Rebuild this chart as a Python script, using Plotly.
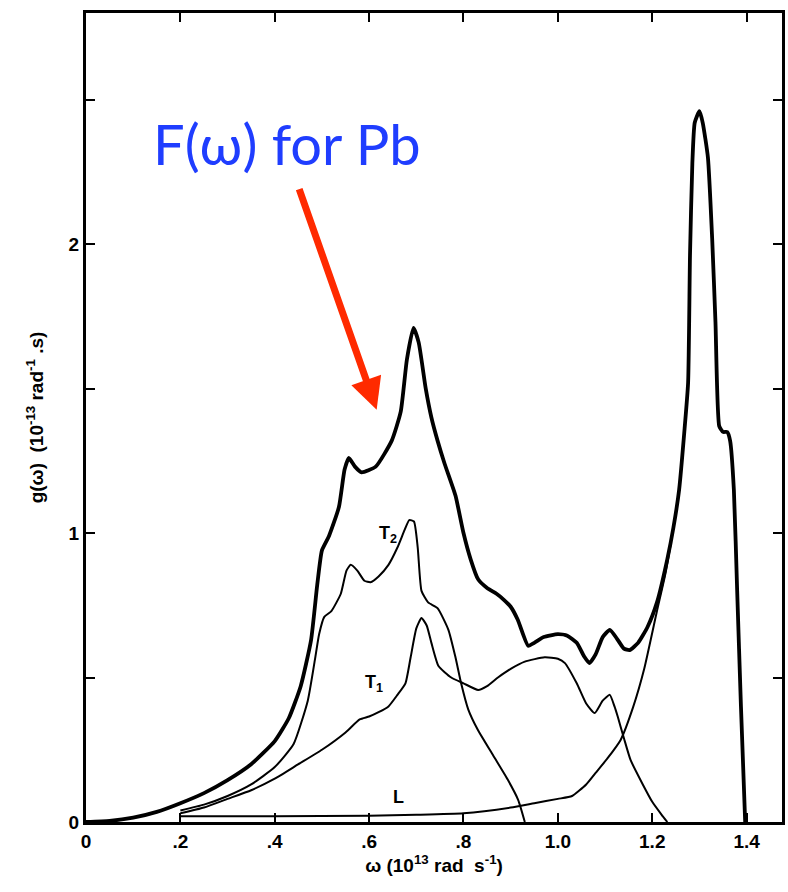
import plotly.graph_objects as go

# Total F(omega)
total_x = [0, 0.05, 0.1, 0.15, 0.2, 0.25, 0.3, 0.35, 0.4, 0.43, 0.455, 0.477, 0.49, 0.50, 0.515, 0.536,
           0.548, 0.557, 0.57, 0.584, 0.614, 0.648, 0.667, 0.68, 0.694, 0.705, 0.72, 0.732, 0.745, 0.76,
           0.783, 0.80, 0.815, 0.831, 0.85, 0.87, 0.885, 0.90, 0.915, 0.937, 0.95, 0.97, 1.0, 1.02, 1.04,
           1.055, 1.067, 1.08, 1.095, 1.11, 1.125, 1.14, 1.152, 1.17, 1.19, 1.21, 1.232, 1.245, 1.257,
           1.268, 1.276, 1.28, 1.285, 1.29, 1.3, 1.307, 1.318, 1.327, 1.334, 1.342, 1.35, 1.359, 1.365,
           1.373, 1.38, 1.388, 1.397]
total_y = [0, 0.004, 0.015, 0.035, 0.065, 0.1, 0.145, 0.2, 0.28, 0.36, 0.47, 0.63, 0.82, 0.94, 0.99, 1.09,
           1.22, 1.26, 1.23, 1.21, 1.23, 1.32, 1.42, 1.60, 1.71, 1.66, 1.50, 1.40, 1.32, 1.24,
           1.13, 1.00, 0.91, 0.84, 0.81, 0.79, 0.77, 0.745, 0.70, 0.61, 0.62, 0.64, 0.65, 0.645, 0.62,
           0.575, 0.55, 0.58, 0.64, 0.665, 0.635, 0.60, 0.595, 0.62, 0.675, 0.76, 0.91, 1.02, 1.15,
           1.35, 1.52, 1.96, 2.28, 2.42, 2.46, 2.42, 2.30, 2.02, 1.73, 1.37, 1.35, 1.35, 1.32,
           1.15, 0.8, 0.4, 0.0]

# T2 branch
t2_x = [0.2, 0.25, 0.3, 0.35, 0.4, 0.44, 0.47, 0.485, 0.494, 0.505, 0.52, 0.54, 0.552, 0.561, 0.575,
        0.59, 0.603, 0.62, 0.641, 0.66, 0.675, 0.685, 0.695, 0.703, 0.711, 0.725, 0.745, 0.768, 0.783,
        0.795, 0.81, 0.83, 0.863, 0.894, 0.916, 0.93]
t2_y = [0.04, 0.06, 0.09, 0.13, 0.19, 0.27, 0.42, 0.56, 0.65, 0.71, 0.73, 0.79, 0.87, 0.89, 0.87,
        0.835, 0.83, 0.85, 0.89, 0.95, 1.01, 1.045, 1.04, 0.95, 0.80, 0.76, 0.74, 0.665, 0.57,
        0.48, 0.39, 0.32, 0.23, 0.146, 0.076, 0.0]

# T1 branch
t1_x = [0.2, 0.25, 0.3, 0.35, 0.4, 0.45, 0.5, 0.55, 0.58, 0.6, 0.62, 0.641, 0.66, 0.677, 0.688, 0.70,
        0.711, 0.722, 0.732, 0.747, 0.774, 0.80, 0.831, 0.85, 0.873, 0.90, 0.93, 0.972, 1.0, 1.015,
        1.04, 1.06, 1.078, 1.095, 1.11, 1.12, 1.127, 1.14, 1.154, 1.18, 1.2, 1.22, 1.232]
t1_y = [0.03, 0.05, 0.08, 0.11, 0.15, 0.2, 0.25, 0.31, 0.355, 0.365, 0.38, 0.40, 0.44, 0.48, 0.57, 0.67,
        0.706, 0.68, 0.62, 0.54, 0.50, 0.48, 0.457, 0.47, 0.50, 0.53, 0.555, 0.57, 0.565, 0.55,
        0.48, 0.41, 0.377, 0.42, 0.44, 0.40, 0.364, 0.29, 0.215, 0.13, 0.07, 0.025, 0.0]

# L branch
l_x = [0.2, 0.4, 0.6, 0.7, 0.8, 0.9, 0.95, 1.0, 1.03, 1.06, 1.08, 1.105, 1.133, 1.16, 1.183, 1.21,
       1.228, 1.24]
l_y = [0.02, 0.02, 0.022, 0.025, 0.03, 0.05, 0.065, 0.08, 0.09, 0.13, 0.17, 0.22, 0.284, 0.40, 0.53,
       0.73, 0.86, 0.97]

x_ticks = [0, 0.2, 0.4, 0.6, 0.8, 1.0, 1.2, 1.4]
x_tick_text = ["0", ".2", ".4", ".6", ".8", "1.0", "1.2", "1.4"]
y_ticks = [0, 0.5, 1, 1.5, 2, 2.5]
y_tick_text = ["0", "", "1", "", "2", ""]

fig = go.Figure()
thin = dict(color="black", width=2, shape="spline", smoothing=0.5)
fig.add_trace(go.Scatter(x=t2_x, y=t2_y, mode="lines", line=thin, showlegend=False))
fig.add_trace(go.Scatter(x=t1_x, y=t1_y, mode="lines", line=thin, showlegend=False))
fig.add_trace(go.Scatter(x=l_x, y=l_y, mode="lines", line=thin, showlegend=False))
fig.add_trace(go.Scatter(x=total_x, y=total_y, mode="lines",
                         line=dict(color="black", width=3.8, shape="spline", smoothing=0.5),
                         showlegend=False))

tickfont = dict(family="Liberation Sans, Arial", size=19, color="black", weight="bold")
titlefont = dict(family="Liberation Sans, Arial", size=19, color="black", weight="bold")
fig.update_xaxes(range=[0, 1.475], tickvals=x_ticks, ticktext=x_tick_text, ticks="inside",
                 ticklen=9, tickwidth=2, tickcolor="black", showline=True, linecolor="black",
                 linewidth=3, mirror="allticks", showgrid=False, zeroline=False, tickfont=tickfont,
                 title=dict(text="ω (10<sup>13</sup> rad  s<sup>-1</sup>)", font=titlefont,
                            standoff=8))
fig.update_yaxes(range=[0, 2.8], tickvals=y_ticks, ticktext=y_tick_text, ticks="inside",
                 ticklen=9, tickwidth=2, tickcolor="black", showline=True, linecolor="black",
                 linewidth=3, mirror="allticks", showgrid=False, zeroline=False, tickfont=tickfont,
                 title=dict(text="g(ω)  (10<sup>-13</sup> rad<sup>-1</sup> .s)", font=titlefont,
                            standoff=20))

lab = dict(family="Liberation Sans, Arial", size=18, color="black", weight="bold")
fig.add_annotation(x=0.641, y=0.995, text="T<sub>2</sub>", showarrow=False, font=lab)
fig.add_annotation(x=0.61, y=0.48, text="T<sub>1</sub>", showarrow=False, font=lab)
fig.add_annotation(x=0.662, y=0.085, text="L", showarrow=False, font=lab)
fig.add_annotation(x=0.425, y=2.35, text="F(ω) for Pb", showarrow=False,
                   font=dict(family="Lato, Open Sans", size=56, color="#1f3dff"))
fig.add_annotation(x=0.616, y=1.427, ax=-78, ay=-222, axref="pixel", ayref="pixel",
                   text="", showarrow=True, arrowhead=2, arrowsize=0.9, arrowwidth=7,
                   arrowcolor="#ff2a00")

fig.update_layout(width=788, height=892, margin=dict(l=86, r=3, t=13, b=70),
                  plot_bgcolor="white", paper_bgcolor="white")
fig.write_html("out.html")
